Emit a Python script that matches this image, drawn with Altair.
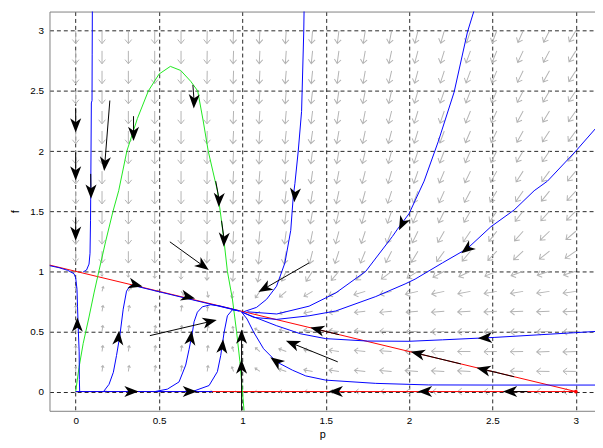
import altair as alt
import pandas as pd

# ---------------- direction field (grid of sample points) ----------------
P_GRID = [0.0, 0.158, 0.316, 0.474, 0.632, 0.789, 0.947, 1.105, 1.263, 1.421,
          1.579, 1.737, 1.895, 2.053, 2.211, 2.368, 2.526, 2.684, 2.842, 3.0]
F_GRID = [0.0, 0.167, 0.333, 0.5, 0.667, 0.833, 1.0, 1.167, 1.333, 1.5,
          1.667, 1.833, 2.0, 2.167, 2.333, 2.5, 2.667, 2.833, 3.0]

# arrow heading, degrees clockwise from "up" on screen; one row per F_GRID value
FIELD_ANGLE = [
    [90, 90, 90, 90, 90, 90, 90, 270, 270, 270, 270, 270, 270, 270, 270, 270, 270, 270, 270, 270],
    [0, 8, 8, 8, 8, 8, 340, 305, 288, 281, 278, 276, 275, 274, 273, 273, 272, 272, 271, 271],
    [0, 8, 8, 8, 8, 8, 345, 310, 290, 282, 278, 276, 274, 272, 271, 270, 269, 269, 268, 268],
    [0, 8, 8, 8, 8, 8, 350, 300, 285, 278, 275, 273, 271, 269, 268, 268, 267, 267, 267, 267],
    [0, 10, 10, 10, 8, 5, 330, 240, 250, 258, 262, 264, 265, 266, 266, 267, 267, 268, 268, 268],
    [0, 15, 35, 80, 140, 170, 195, 215, 230, 240, 248, 253, 256, 257, 258, 259, 260, 261, 262, 262],
    [180, 180, 180, 180, 180, 182, 185, 192, 205, 213, 220, 227, 233, 238, 242, 245, 248, 250, 252, 253],
    [180, 180, 180, 180, 180, 182, 184, 187, 190, 194, 198, 202, 207, 211, 216, 220, 224, 228, 232, 236],
    [180, 180, 180, 180, 180, 181, 183, 186, 188, 191, 195, 198, 202, 206, 210, 214, 218, 222, 226, 230],
    [180, 180, 180, 180, 180, 181, 183, 185, 187, 190, 193, 196, 199, 203, 206, 210, 214, 218, 222, 226],
    [180, 180, 180, 180, 180, 181, 183, 185, 187, 189, 192, 195, 198, 201, 204, 208, 211, 215, 219, 223],
    [180, 180, 180, 180, 180, 181, 183, 185, 186, 188, 191, 194, 196, 199, 203, 206, 209, 213, 216, 220],
    [180, 180, 180, 180, 180, 181, 183, 184, 186, 188, 190, 193, 195, 198, 201, 204, 207, 211, 214, 218],
    [180, 180, 180, 180, 180, 181, 183, 184, 186, 188, 190, 192, 195, 197, 200, 203, 206, 209, 213, 216],
    [180, 180, 180, 180, 180, 181, 182, 184, 185, 187, 189, 191, 194, 197, 199, 202, 205, 208, 211, 215],
    [180, 180, 180, 180, 180, 181, 182, 184, 185, 187, 189, 191, 193, 196, 199, 201, 204, 207, 210, 214],
    [180, 180, 180, 180, 180, 181, 182, 183, 185, 186, 188, 190, 193, 195, 198, 200, 203, 206, 209, 213],
    [180, 180, 180, 180, 180, 181, 182, 183, 184, 186, 188, 190, 192, 195, 197, 200, 202, 205, 208, 212],
    [180, 180, 180, 180, 180, 181, 182, 183, 184, 185, 187, 189, 191, 194, 196, 198, 201, 204, 207, 211],
]
FULL = [13] * 20
FIELD_LEN = [
    [1, 5, 6, 6, 6, 5, 3, 5, 7, 8, 9, 10, 11, 12, 12, 13, 13, 13, 13, 13],
    [5, 6, 6, 6, 6, 6, 5, 6, 8, 9, 10, 11, 12, 13, 13, 13, 13, 13, 13, 13],
    [6, 6, 6, 6, 6, 6, 5, 6, 8, 9, 10, 11, 12, 13, 13, 13, 13, 13, 13, 13],
    [6, 6, 6, 6, 6, 6, 5, 6, 7, 9, 10, 11, 12, 12, 13, 13, 13, 13, 13, 13],
    [6, 6, 6, 6, 6, 5, 3, 5, 7, 9, 10, 11, 12, 12, 13, 13, 13, 13, 13, 13],
    [5, 5, 5, 4, 5, 6, 7, 8, 9, 10, 11, 12, 12, 13, 13, 13, 13, 13, 13, 13],
    [1, 5, 6, 7, 8, 9, 10, 11, 11, 12, 12, 13, 13, 13, 13, 13, 13, 13, 13, 13],
    [11, 12, 12, 12, 12, 12, 12, 13, 13, 13, 13, 13, 13, 13, 13, 13, 13, 13, 13, 13],
    FULL, FULL, FULL, FULL, FULL, FULL, FULL, FULL, FULL, FULL, FULL,
]

# ---------------- nullclines ----------------
RED_LINE_P = [-0.157, 3.0]
RED_LINE_F = [1.052, 0.0]
RED_BASE_P = [0.0, 3.0]
RED_BASE_F = [0.0, 0.0]
GREEN_P = [0.0, 0.02, 0.045, 0.08, 0.11, 0.139, 0.18, 0.224, 0.258, 0.307, 0.37, 0.436, 0.5,
           0.568, 0.63, 0.69, 0.732, 0.765, 0.795, 0.85, 0.867, 0.89, 0.91, 0.94, 0.965, 0.985,
           1.0, 1.01]
GREEN_F = [0.0, 0.2, 0.4, 0.62, 0.82, 1.0, 1.25, 1.5, 1.67, 2.0, 2.27, 2.5, 2.64,
           2.704, 2.67, 2.58, 2.5, 2.25, 2.0, 1.67, 1.5, 1.25, 1.0, 0.77, 0.5, 0.25,
           0.0, -0.16]

# ---------------- trajectories (blue) ----------------
T1_P = [0.100, 0.099, 0.098, 0.094, 0.092, 0.090, 0.089, 0.086, 0.080, 0.065, 0.045]
T1_F = [3.170, 2.800, 2.420, 2.400, 2.000, 1.600, 1.420, 1.150, 1.060, 1.010, 0.995]
T2_P = [-0.157, -0.100, -0.048, -0.010, 0.000, 0.008, 0.011, 0.016, 0.021, 0.022, 0.024]
T2_F = [1.047, 1.030, 1.008, 0.980, 0.945, 0.850, 0.710, 0.500, 0.330, 0.100, 0.000]
T3_P = [0.167, 0.200, 0.226, 0.245, 0.265, 0.285, 0.305, 0.325, 0.345, 0.500, 0.700, 0.850, 0.980]
T3_F = [0.000, 0.060, 0.160, 0.300, 0.465, 0.685, 0.835, 0.876, 0.882, 0.830, 0.763, 0.713, 0.670]
T4_P = [0.476, 0.550, 0.620, 0.660, 0.680, 0.700, 0.710, 0.730, 0.760, 0.810, 0.860, 0.980]
T4_F = [0.000, 0.020, 0.080, 0.220, 0.350, 0.490, 0.580, 0.660, 0.705, 0.722, 0.713, 0.672]
T5_P = [0.700, 0.800, 0.850, 0.870, 0.890, 0.910, 0.940, 0.990]
T5_F = [0.000, 0.050, 0.165, 0.300, 0.490, 0.630, 0.680, 0.668]
T6_P = [1.370, 1.368, 1.355, 1.335, 1.315, 1.305, 1.290, 1.255, 1.205, 1.145, 1.085, 1.010]
T6_F = [3.170, 2.990, 2.330, 2.000, 1.730, 1.620, 1.340, 1.070, 0.876, 0.767, 0.700, 0.665]
T7_P = [2.390, 2.350, 2.270, 2.175, 2.090, 2.000, 1.930, 1.900, 1.740, 1.560, 1.400, 1.206, 1.030]
T7_F = [3.170, 2.990, 2.490, 2.080, 1.750, 1.480, 1.350, 1.290, 1.000, 0.820, 0.710, 0.645, 0.663]
T8_P = [3.120, 3.000, 2.510, 2.200, 2.000, 1.750, 1.500, 1.350, 1.206, 1.070, 0.995]
T8_F = [0.500, 0.490, 0.450, 0.430, 0.418, 0.420, 0.440, 0.480, 0.547, 0.620, 0.662]
T9_P = [3.120, 2.500, 2.115, 1.800, 1.500, 1.380, 1.300, 1.205, 1.127, 1.068, 1.028, 0.995]
T9_F = [0.054, 0.054, 0.055, 0.068, 0.095, 0.130, 0.178, 0.247, 0.356, 0.493, 0.603, 0.662]
T10_P = [3.120, 3.000, 2.830, 2.750, 2.630, 2.490, 2.350, 2.200, 2.036, 1.976, 1.800, 1.560,
         1.400, 1.206, 1.070, 0.995]
T10_F = [2.190, 2.000, 1.750, 1.670, 1.510, 1.370, 1.190, 1.070, 0.935, 0.895, 0.790, 0.670,
         0.630, 0.600, 0.616, 0.662]
T11_P = [0.000, 0.820]
T11_F = [0.000, 0.000]
TRAJ = [(T1_P, T1_F), (T2_P, T2_F), (T3_P, T3_F), (T4_P, T4_F), (T5_P, T5_F), (T6_P, T6_F),
        (T7_P, T7_F), (T8_P, T8_F), (T9_P, T9_F), (T10_P, T10_F), (T11_P, T11_F)]

# ---------------- black straight segments and arrowheads ----------------
SEG_P1 = [0.0, 0.0, 0.0, 0.205, 0.347, 0.703, 0.840, 0.875, 0.445, 0.565, 0.995, 1.400, 1.572,
          1.580, 2.310, 2.630, 2.710, 0.090]
SEG_F1 = [2.36, 1.99, 1.45, 2.42, 2.29, 2.55, 1.75, 1.42, 0.465, 1.245, -0.16, 1.07, 0.247,
          0.473, 0.230, 0.123, 0.0, 1.81]
SEG_P2 = [0.0, 0.0, 0.0, 0.175, 0.347, 0.710, 0.860, 0.890, 0.800, 0.760, 0.995, 1.137, 1.305,
          1.453, 2.056, 2.450, 2.610, 0.092]
SEG_F2 = [2.22, 1.82, 1.32, 1.90, 2.15, 2.42, 1.60, 1.27, 0.58, 1.05, 0.45, 0.86, 0.397,
          0.516, 0.315, 0.183, 0.0, 1.67]

ARROW_P = [0.0, 0.0, 0.0, 0.175, 0.092, 0.347, 0.71, 0.86, 0.89, 0.355, 0.67, 0.256, 0.69,
           0.88, 0.01, 0.33, 0.68, 0.80, 0.76, 0.995, 0.995, 1.315, 1.137, 1.96, 2.35, 2.46,
           1.453, 2.056, 2.45, 1.206, 1.305, 1.565, 2.10, 2.61]
ARROW_F = [2.22, 1.82, 1.32, 1.90, 1.67, 2.15, 2.42, 1.60, 1.27, 0.89, 0.79, 0.44, 0.44,
           0.37, 0.55, 0.0, 0.0, 0.58, 1.05, 0.45, 0.20, 1.64, 0.86, 1.40, 1.19, 0.446,
           0.516, 0.315, 0.183, 0.247, 0.397, 0.0, 0.0, 0.0]
ARROW_ANG = [180, 180, 180, 185, 180, 180, 182, 182, 182, 104, 104, 5, 8, 5, 0, 90, 90, 77,
             126, 0, 0, 185, 240, 206, 232, 267, 284, 284, 284, 306, 292, 270, 270, 270]

# ---------------- build tables ----------------
field_rows = []
for j, fv in enumerate(F_GRID):
    for k, pv in enumerate(P_GRID):
        L = FIELD_LEN[j][k]
        field_rows.append({"p": pv, "f": fv, "ang": FIELD_ANGLE[j][k], "sz": 4 * L * L})
field = pd.DataFrame(field_rows)

traj_rows = []
for i, (ps, fs) in enumerate(TRAJ):
    for o, (pv, fv) in enumerate(zip(ps, fs)):
        traj_rows.append({"id": i, "o": o, "p": pv, "f": fv})
traj = pd.DataFrame(traj_rows)

red_rows = []
for o, (pv, fv) in enumerate(zip(RED_LINE_P, RED_LINE_F)):
    red_rows.append({"id": 0, "o": o, "p": pv, "f": fv})
for o, (pv, fv) in enumerate(zip(RED_BASE_P, RED_BASE_F)):
    red_rows.append({"id": 1, "o": o, "p": pv, "f": fv})
red = pd.DataFrame(red_rows)

green = pd.DataFrame({"o": list(range(len(GREEN_P))), "p": GREEN_P, "f": GREEN_F})
segs = pd.DataFrame({"p1": SEG_P1, "f1": SEG_F1, "p2": SEG_P2, "f2": SEG_F2})
arrows = pd.DataFrame({"p": ARROW_P, "f": ARROW_F, "ang": ARROW_ANG})
reddot = pd.DataFrame({"p": [3.0], "f": [0.0]})

# ---------------- scales / axes ----------------
xs = alt.Scale(domain=[-0.157, 3.115], nice=False, zero=False)
ys = alt.Scale(domain=[-0.16, 3.16], nice=False, zero=False)
TICKS = [0, 0.5, 1, 1.5, 2, 2.5, 3]
FONT = "Liberation Sans"
x_axis = alt.Axis(values=TICKS, format="~g", title="p", grid=True, gridColor="black",
                  gridDash=[4, 3], gridOpacity=0.85, ticks=False, domainColor="#808080",
                  labelFont=FONT, labelFontSize=10, labelColor="black", labelPadding=5,
                  titleFont=FONT, titleFontSize=11, titleFontWeight="normal",
                  titleColor="black", titlePadding=3)
y_axis = alt.Axis(values=TICKS, format="~g", title="f", grid=True, gridColor="black",
                  gridDash=[4, 3], gridOpacity=0.85, ticks=False, domainColor="#808080",
                  labelFont=FONT, labelFontSize=10, labelColor="black", labelPadding=6,
                  titleFont=FONT, titleFontSize=11, titleFontWeight="normal",
                  titleColor="black", titlePadding=9)
top_axis = alt.Axis(orient="top", labels=False, ticks=False, grid=False, title=None,
                    domainColor="#808080")

GREY_ARROW = "M0,0L0,-1M-0.26,-0.68L0,-1L0.26,-0.68"
BLACK_HEAD = "M0,-1L0.7,0.8L0,0.3L-0.7,0.8Z"

field_layer = alt.Chart(field).mark_point(
    shape=GREY_ARROW, filled=False, color="#b4b4b4", strokeWidth=1, opacity=1
).encode(
    x=alt.X("p:Q", scale=xs, axis=x_axis),
    y=alt.Y("f:Q", scale=ys, axis=y_axis),
    angle=alt.Angle("ang:Q", scale=None),
    size=alt.Size("sz:Q", scale=None),
)

red_layer = alt.Chart(red).mark_line(color="#ff0000", strokeWidth=1, clip=True).encode(
    x=alt.X("p:Q", scale=xs, axis=None),
    y=alt.Y("f:Q", scale=ys, axis=None),
    detail="id:N", order="o:Q",
)

green_layer = alt.Chart(green).mark_line(color="#1ee81e", strokeWidth=1, clip=True).encode(
    x=alt.X("p:Q", scale=xs, axis=None),
    y=alt.Y("f:Q", scale=ys, axis=None),
    order="o:Q",
)

blue_layer = alt.Chart(traj).mark_line(color="#0000ff", strokeWidth=1, clip=True).encode(
    x=alt.X("p:Q", scale=xs, axis=None),
    y=alt.Y("f:Q", scale=ys, axis=None),
    detail="id:N", order="o:Q",
)

seg_layer = alt.Chart(segs).mark_rule(color="black", strokeWidth=1, clip=True).encode(
    x=alt.X("p1:Q", scale=xs, axis=None),
    y=alt.Y("f1:Q", scale=ys, axis=None),
    x2="p2:Q", y2="f2:Q",
)

head_layer = alt.Chart(arrows).mark_point(
    shape=BLACK_HEAD, filled=True, color="black", opacity=1, size=256, strokeWidth=0
).encode(
    x=alt.X("p:Q", scale=xs, axis=None),
    y=alt.Y("f:Q", scale=ys, axis=None),
    angle=alt.Angle("ang:Q", scale=None),
)

dot_layer = alt.Chart(reddot).mark_point(filled=True, color="#ff0000", size=14, opacity=1).encode(
    x=alt.X("p:Q", scale=xs, axis=top_axis),
    y=alt.Y("f:Q", scale=ys, axis=None),
)

chart = alt.layer(
    field_layer, red_layer, green_layer, blue_layer, seg_layer, head_layer, dot_layer
).resolve_axis(x="independent", y="independent").properties(
    width=552, height=404,
    padding={"left": 42, "top": 1, "right": 0, "bottom": 30},
    autosize=alt.AutoSizeParams(type="none"),
    background="white",
).configure_view(stroke=None)

chart.save("out.html", embed_options={"renderer": "svg", "actions": False})
